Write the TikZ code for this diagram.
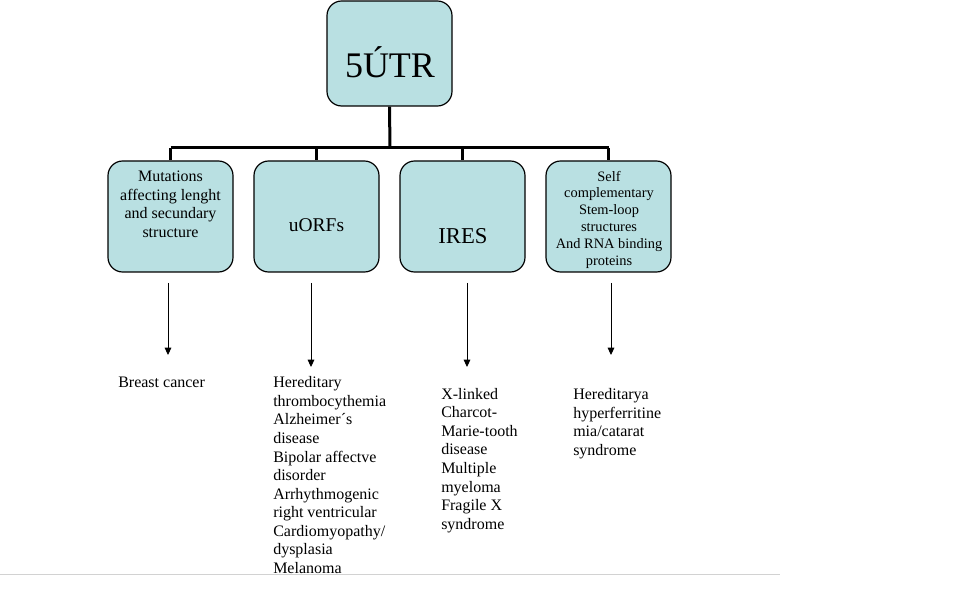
\documentclass[tikz,border=0pt]{standalone}
\usepackage{fontspec}
\setmainfont{Liberation Serif}
\usetikzlibrary{arrows.meta}
\definecolor{boxteal}{RGB}{185,224,226}

\begin{document}
\begin{tikzpicture}[x=0.75pt, y=-0.75pt,
		branch/.style={draw=black, line width=0.9pt, fill=boxteal, rounded corners=11pt, minimum width=93.75pt, minimum height=83.25pt, inner sep=0pt},
		boxtext/.style={align=center, inner sep=0pt},
		listtext/.style={align=left, anchor=north west, inner sep=0pt, font=\fontsize{12}{13.9}\selectfont},
		trunk/.style={line width=2.25pt},
		pointer/.style={line width=0.7pt, -{Triangle[width=5pt,length=5.5pt]}}]
		\useasboundingbox (0,0) rectangle (961,609);
		% root and branches
		\node[branch, minimum height=78.75pt] (utr) at (389.5,53.5) {};
		\node[boxtext, anchor=base, font=\fontsize{27}{30}\selectfont] (utrname) at (390,78) {5ÚTR};
		\node[branch] (b1) at (170.5,216.5) {};
		\node[branch] (b2) at (316.5,216.5) {};
		\node[branch] (b3) at (462.5,216.5) {};
		\node[branch] (b4) at (608.5,216.5) {};
		\node[boxtext, font=\fontsize{12}{13.9}\selectfont] (b1name) at (170.5,204.5) {Mutations\\affecting lenght\\and secundary\\structure};
		\node[boxtext, anchor=base, font=\fontsize{14.6}{16}\selectfont] (b2name) at (316.5,232) {uORFs};
		\node[boxtext, anchor=base, font=\fontsize{17}{19}\selectfont] (b3name) at (463,243.3) {IRES};
		\node[boxtext, font=\fontsize{10.8}{12.6}\selectfont] (b4name) at (609,219.5) {Self\\complementary\\Stem-loop\\structures\\And RNA binding\\proteins};
		% tree lines
		\coordinate (hub) at (390,148);
		\draw[trunk] (utr.south) -- (hub);
		\draw[trunk] (b1.north |- hub) -- (b4.north |- hub);
		\foreach \b in {b1,b2,b3,b4}
			\draw[trunk] (\b.north |- hub) -- (\b.north);
		% diseases
		\node[listtext] (d1) at (118,377) {Breast cancer};
		\node[listtext] (d2) at (273,376.5) {Hereditary\\thrombocythemia\\Alzheimer´s\\disease\\Bipolar affectve\\disorder\\Arrhythmogenic\\right ventricular\\Cardiomyopathy/\\dysplasia\\Melanoma};
		\node[listtext] (d3) at (441,388) {X-linked\\Charcot-\\Marie-tooth\\disease\\Multiple\\myeloma\\Fragile X\\syndrome};
		\node[listtext] (d4) at (573,388.5) {Hereditarya\\hyperferritine\\mia/catarat\\syndrome};
		\coordinate (s1) at (168,283); \coordinate (e1) at (168,355);
		\coordinate (s2) at (311,283); \coordinate (e2) at (311,367);
		\coordinate (s3) at (467,283); \coordinate (e3) at (467,367);
		\coordinate (s4) at (611,283); \coordinate (e4) at (611,355);
		\foreach \i in {1,...,4}
			\draw[pointer] (s\i) -- (e\i);
		\draw[gray!35, line width=0.9pt] (0,574.5) -- (780,574.5);
	\end{tikzpicture}
\end{document}
